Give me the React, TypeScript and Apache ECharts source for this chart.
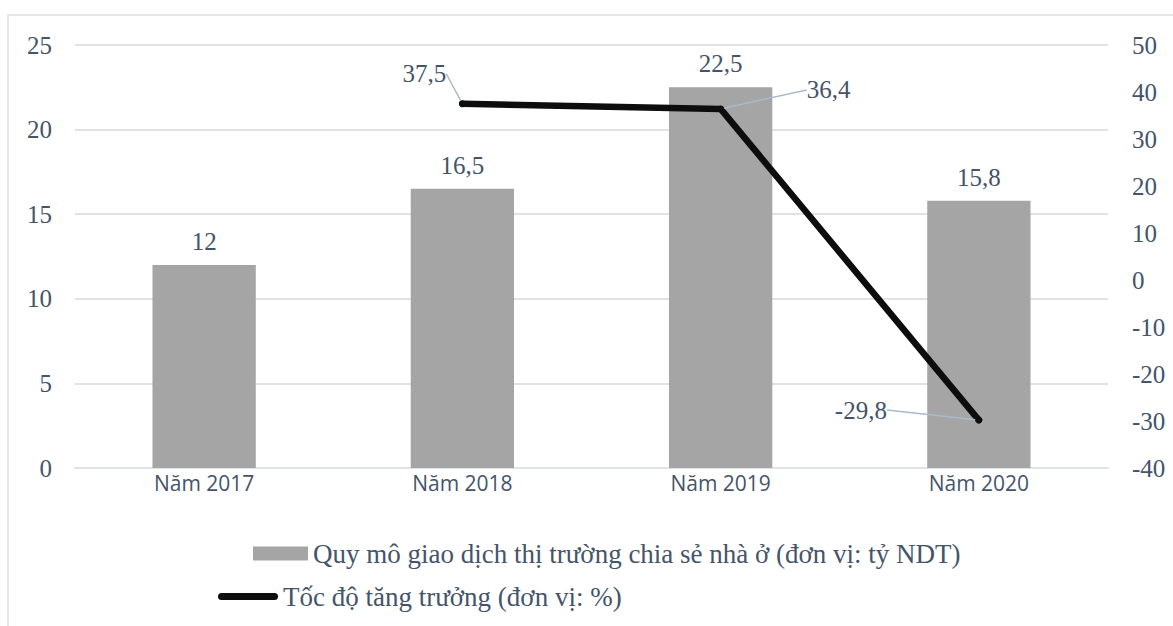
import React, { useEffect, useRef } from "react";
import * as echarts from "echarts";

const categories = ["Năm 2017", "Năm 2018", "Năm 2019", "Năm 2020"];
const scaleValues = [12, 16.5, 22.5, 15.8];
const growthValues: (number | string)[] = ["-", 37.5, 36.4, -29.8];
const leftTicks = { min: 0, max: 25, interval: 5 };
const rightTicks = { min: -40, max: 50, interval: 10 };
const barName = "Quy mô giao dịch thị trường chia sẻ nhà ở (đơn vị: tỷ NDT)";
const lineName = "Tốc độ tăng trưởng (đơn vị: %)";

// label offsets (label center relative to point) and leader shapes, styling only
const lineLabelOffsets: Record<number, [number, number]> = {
  1: [-38, -30],
  2: [108, -19],
  3: [-118, -10],
};
const leaderShapes: Record<number, [number, number][]> = {
  1: [[-37, -14], [-37, -14], [0, 0]],
  2: [[78, -21], [67, -21], [2, 0]],
  3: [[-84, -15], [-72, -15], [-2, 0]],
};

const fmt = (v: number) => String(v).replace(".", ",");
const SERIF = "Liberation Serif";
const SANS = "Open Sans";
const TXT = "#44546a";

export default function App() {
  const ref = useRef<HTMLDivElement>(null);
  useEffect(() => {
    if (!ref.current) return;
    const chart = echarts.init(ref.current, undefined, { renderer: "svg" });
    chart.setOption({
      animation: false,
      backgroundColor: "#fff",
      graphic: [
        {
          type: "rect",
          shape: { x: 8, y: 15, width: 1200, height: 700 },
          style: { fill: "none", stroke: "#dbe1e8", lineWidth: 1.5 },
          silent: true,
          z: -1,
        },
      ],
      grid: { left: 75, right: 65, top: 45, bottom: 158, containLabel: false },
      legend: [
        {
          data: [barName],
          left: 248,
          top: 535,
          itemWidth: 55,
          itemHeight: 14,
          itemGap: 0,
          selectedMode: false,
          icon: "rect",
          textStyle: { fontFamily: SERIF, fontSize: 27, color: TXT },
        },
        {
          data: [lineName],
          left: 213,
          top: 578,
          itemWidth: 60,
          itemHeight: 7,
          itemGap: 0,
          selectedMode: false,
          icon: "path://M3.5,0 H56.5 A3.5,3.5 0 0 1 56.5,7 H3.5 A3.5,3.5 0 0 1 3.5,0 Z",
          textStyle: { fontFamily: SERIF, fontSize: 27, color: TXT },
        },
      ],
      xAxis: {
        type: "category",
        data: categories,
        axisLine: { show: true, lineStyle: { color: "#dde3ea", width: 2 } },
        axisTick: { show: false },
        axisLabel: { fontFamily: SANS, fontSize: 21, color: TXT, margin: 4 },
      },
      yAxis: [
        {
          type: "value",
          min: leftTicks.min,
          max: leftTicks.max,
          interval: leftTicks.interval,
          axisLine: { show: false },
          axisTick: { show: false },
          splitLine: { lineStyle: { color: "#d9d9d9", width: 1.5 } },
          axisLabel: { fontFamily: SERIF, fontSize: 25, color: TXT, margin: 23 },
        },
        {
          type: "value",
          min: rightTicks.min,
          max: rightTicks.max,
          interval: rightTicks.interval,
          axisLine: { show: false },
          axisTick: { show: false },
          splitLine: { show: false },
          axisLabel: { fontFamily: SERIF, fontSize: 25, color: TXT, margin: 24 },
        },
      ],
      series: [
        {
          name: barName,
          type: "bar",
          data: scaleValues,
          yAxisIndex: 0,
          barCategoryGap: "60%",
          itemStyle: { color: "#a5a5a5" },
          label: {
            show: true,
            position: "top",
            distance: 11,
            fontFamily: SERIF,
            fontSize: 25,
            color: TXT,
            formatter: (p: any) => fmt(p.value),
          },
        },
        {
          name: lineName,
          type: "line",
          data: growthValues,
          yAxisIndex: 1,
          symbol: "circle",
          symbolSize: 7,
          itemStyle: { color: "#0d0d0d" },
          lineStyle: { color: "#0d0d0d", width: 6.5, cap: "round", join: "round" },
          label: {
            show: true,
            position: "inside",
            fontFamily: SERIF,
            fontSize: 25,
            color: TXT,
            formatter: (p: any) => fmt(p.value),
          },
          labelLine: { show: true, lineStyle: { color: "#adb9ca", width: 1.5 } },
          labelLayout: (p: any) => {
            const o = lineLabelOffsets[p.dataIndex] || [0, -20];
            const cx = p.rect.x + p.rect.width / 2;
            const cy = p.rect.y + p.rect.height / 2;
            const res: any = {
              x: cx + o[0],
              y: cy + o[1],
              align: "center",
              verticalAlign: "middle",
            };
            const shape = leaderShapes[p.dataIndex];
            if (shape) {
              res.labelLinePoints = shape.map((pt) => [cx + pt[0], cy + pt[1]]);
            }
            return res;
          },
        },
      ],
    });
    return () => chart.dispose();
  }, []);
  return (
    <div
      ref={ref}
      style={{ position: "fixed", left: 0, top: 0, width: 1173, height: 626 }}
    />
  );
}
